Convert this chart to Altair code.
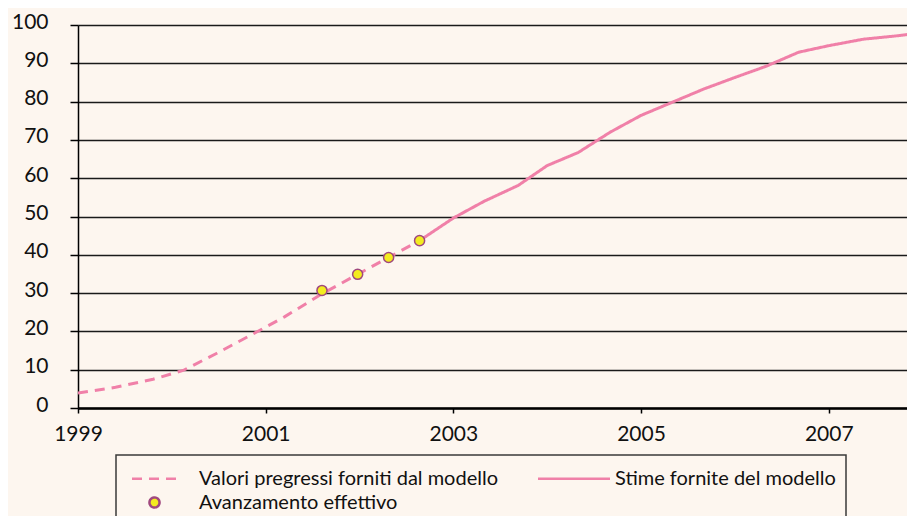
import altair as alt
import pandas as pd

# ---- data ----
# legend order (column-major layout): Valori, Avanzamento | Stime
labels = ["Valori pregressi forniti dal modello", "Avanzamento effettivo", "Stime fornite del modello"]

past_x = [1999.0, 1999.4, 1999.8, 2000.12, 2000.48, 2000.84, 2001.2, 2001.6, 2001.98, 2002.31, 2002.64]
past_y = [3.9, 5.4, 7.5, 9.8, 14.3, 19.0, 23.8, 29.8, 34.9, 39.3, 43.7]

est_x = [2002.64, 2003.0, 2003.33, 2003.69, 2004.0, 2004.33, 2004.67, 2005.0, 2005.33,
         2005.67, 2006.0, 2006.33, 2006.68, 2007.0, 2007.37, 2007.7, 2008.0]
est_y = [43.7, 49.6, 54.0, 58.1, 63.3, 66.7, 72.0, 76.4, 79.8,
         83.3, 86.3, 89.2, 92.9, 94.6, 96.3, 97.1, 98.0]

act_x = [2001.6, 2001.98, 2002.31, 2002.64]
act_y = [30.7, 34.9, 39.3, 43.7]

x_ticks = [1999, 2001, 2003, 2005, 2007]
y_ticks = [0, 10, 20, 30, 40, 50, 60, 70, 80, 90, 100]

# ---- styling ----
BG = "#FDF6EF"
PINK = "#F080A8"
PURPLE = "#A0487E"
YELLOW = "#F3EC1F"
FONT = "Lato"
SYM = 576  # symbol size (unit = 12 px) shared by legend symbols and points
DASH_PATH = "M-1.875,0H1.875"
SOLID_PATH = "M-2.71,0H3.29"
CIRCLE_PATH = "M-0.42,0A0.42,0.42 0 1,1 0.42,0A0.42,0.42 0 1,1 -0.42,0Z"

lines_df = pd.DataFrame({
    "anno": past_x + est_x,
    "valore": past_y + est_y,
    "serie": [labels[0]] * len(past_x) + [labels[2]] * len(est_x),
})
pts_df = pd.DataFrame({"anno": act_x, "valore": act_y, "serie": [labels[1]] * len(act_x)})

x = alt.X("anno:Q", title=None,
          scale=alt.Scale(domain=[1999, 2007.834], nice=False, zero=False),
          axis=alt.Axis(values=x_ticks, format="d", grid=False, domainWidth=2.5,
                        tickSize=5, tickWidth=1.5, labelPadding=10, labelFlush=False))
y = alt.Y("valore:Q", title=None,
          scale=alt.Scale(domain=[0, 100], nice=False),
          axis=alt.Axis(values=y_ticks, grid=True, gridColor="#1a1a1a", gridWidth=1.4,
                        domainWidth=1.5, tickSize=8, tickWidth=1.5, labelPadding=22,
                        labelOffset=-3))

legend = alt.Legend(title=None, orient="none", legendX=38, legendY=430, columns=2,
                    columnPadding=34, rowPadding=-8, padding=10,
                    labelFont=FONT, labelFontSize=20, labelColor="#111111",
                    symbolOffset=15, labelOffset=31, labelLimit=0,
                    symbolStrokeWidth=2.5, symbolSize=SYM,
                    fillColor=BG, strokeColor="#3a3a3a")

stroke_scale = alt.Scale(domain=labels, range=[PINK, PURPLE, PINK])
dash_scale = alt.Scale(domain=labels, range=[[10, 7], [1, 0], [1, 0]])
shape_scale = alt.Scale(domain=labels, range=[DASH_PATH, CIRCLE_PATH, SOLID_PATH])
fill_scale = alt.Scale(domain=labels, range=["transparent", YELLOW, "transparent"])

lines = alt.Chart(lines_df).mark_line(strokeWidth=3, clip=True).encode(
    x=x, y=y,
    stroke=alt.Stroke("serie:N", scale=stroke_scale, legend=legend),
    strokeDash=alt.StrokeDash("serie:N", scale=dash_scale, legend=legend),
)

pts = alt.Chart(pts_df).mark_point(strokeWidth=1.5, opacity=1, size=SYM).encode(
    x=x, y=y,
    stroke=alt.Stroke("serie:N", scale=stroke_scale, legend=legend),
    fill=alt.Fill("serie:N", scale=fill_scale, legend=legend),
    shape=alt.Shape("serie:N", scale=shape_scale, legend=legend),
)

chart = alt.layer(lines, pts).properties(
    width=829, height=383,
    autosize=alt.AutoSizeParams(type="none"),
    padding={"left": 70, "top": 17, "right": 0, "bottom": 108},
    background=BG,
).configure_view(stroke=None).configure_axis(
    domainColor="#000000", tickColor="#000000",
    labelFont=FONT, labelFontSize=21, labelColor="#111111",
).configure_legend(strokeWidth=1.5)

chart.save("out.html", embed_options={"renderer": "svg", "actions": False})
